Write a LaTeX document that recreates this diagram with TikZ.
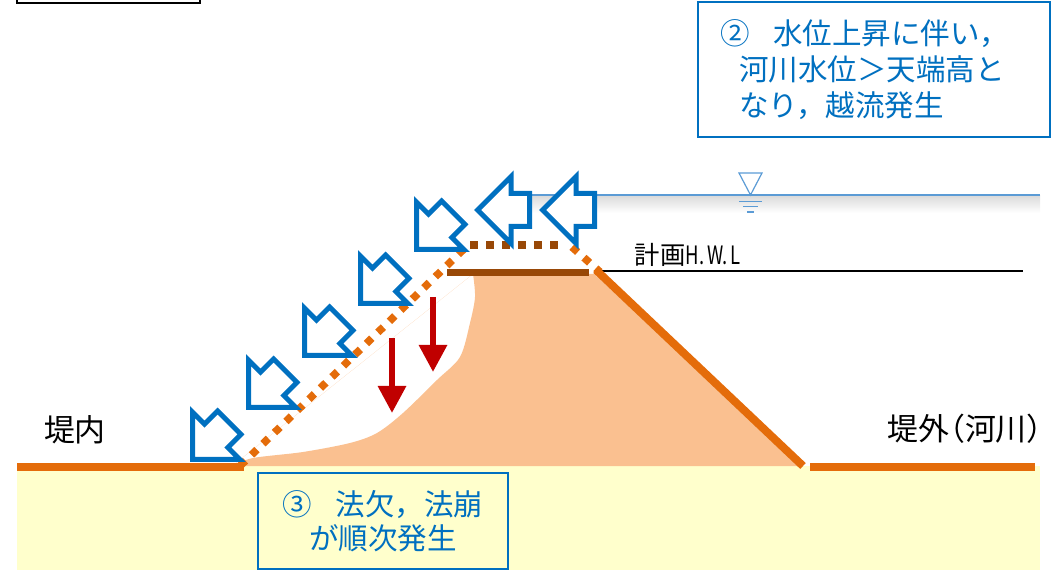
\documentclass[tikz,border=0pt]{standalone}
\usepackage{fontspec}
\setmainfont{Noto Sans CJK JP}
\usepackage{graphicx}
\usetikzlibrary{positioning, arrows.meta, shapes.arrows}
\definecolor{bflow}{HTML}{0070C0}
\definecolor{rfall}{HTML}{C00000}
\definecolor{levee}{HTML}{E46C0A}
\definecolor{crest}{HTML}{984807}
\definecolor{soil}{HTML}{FAC090}
\definecolor{ground}{HTML}{FFFFCC}
\definecolor{water}{HTML}{5B9BD5}

\begin{document}
\begin{tikzpicture}[x=0.25mm,y=-0.25mm,>={Triangle[length=6.75mm,width=6.75mm]},
  flow/.style={single arrow,draw=bflow,fill=white,line width=1.25mm,inner sep=0pt,inner ysep=3.5mm,
    single arrow head extend=4.25mm,single arrow tip angle=90,minimum height=13mm,anchor=tip},
  fall/.style={->,rfall,line width=1.5mm},
  edge/.style={levee,line width=2mm},
  dots/.style={line width=1.9mm,dash pattern=on 1.9mm off 2.1mm},
  note/.style={draw=bflow,line width=0.5mm,text=bflow,font=\fontsize{21pt}{25.6pt}\selectfont},
  lbl/.style={font=\fontsize{22pt}{26pt}\selectfont,inner sep=0pt}]
  \useasboundingbox (0,0) rectangle (1060,575);
  % title frame, cut at the top
  \draw[line width=0.6mm] (17,-20) rectangle (200,3);
  % ground and levee body
  \fill[ground] (17,466) rectangle (1040,570);
  \fill[soil] (473,274) -- (594,274) -- (803,466) -- (232,466)
    plot[smooth] coordinates {(232,466) (253,458) (303,452) (350,443) (377,433) (403,413) (437,380) (460,357) (470,323) (475,297) (473,274)} -- cycle;
  % river water level
  \shade[top color=black!14,bottom color=white] (528,196) rectangle (1040,213);
  \coordinate (wl1) at (528,195); \coordinate (wl2) at (1040,195);
  \draw[water,line width=0.4mm] (wl1) -- (wl2);
  \draw[water,line width=0.3mm] (739,173) -- (762,173) -- (750.5,195) -- cycle;
  \draw[water,line width=0.4mm] (739,201.5) -- (762,201.5) (743,206.5) -- (758,206.5) (747,212) -- (754,212);
  % design high water level
  \coordinate (hwl1) at (602,271); \coordinate (hwl2) at (1023,271);
  \draw[line width=0.5mm] (hwl1) -- (hwl2);
  \node[font=\fontsize{18pt}{20pt}\selectfont,inner sep=0pt] (hwl) at (688,255) {計画\scalebox{0.73}[1]{H.\,W.\,L}};
  % levee outline
  \coordinate (gl1) at (17,467); \coordinate (gl2) at (244,467);
  \coordinate (gr1) at (810,467); \coordinate (gr2) at (1035,467);
  \coordinate (st) at (596,270); \coordinate (sb) at (803,466);
  \coordinate (cr1) at (447,273); \coordinate (cr2) at (589,273);
  \draw[edge] (gl1) -- (gl2); \draw[edge] (gr1) -- (gr2); \draw[edge] (st) -- (sb);
  \draw[crest,line width=1.75mm] (cr1) -- (cr2);
  % overtopped crest
  \coordinate (toe) at (240,466); \coordinate (ot1) at (466,247);
  \coordinate (ot2) at (470,245); \coordinate (ot3) at (566,245);
  \coordinate (ot4) at (572,247); \coordinate (ot5) at (600,272);
  \draw[dots,levee] (toe) -- (ot1); \draw[dots,crest] (ot2) -- (ot3); \draw[dots,levee] (ot4) -- (ot5);
  % slope failure
  \coordinate (fa1) at (433,297); \coordinate (fa2) at (433,372);
  \coordinate (fb1) at (392,338); \coordinate (fb2) at (392,413);
  \draw[fall] (fa1) -- (fa2); \draw[fall] (fb1) -- (fb2);
  % overflow
  \node[flow,rotate=180] (ov1) at (474,210) {}; \node[flow,rotate=180] (ov2) at (539,210) {};
  \node[flow,rotate=225] (ov3) at (414,252) {}; \node[flow,rotate=225] (ov4) at (358,306) {};
  \node[flow,rotate=225] (ov5) at (302,358) {}; \node[flow,rotate=225] (ov6) at (246,410) {};
  \node[flow,rotate=225] (ov7) at (190,462) {};
  % labels
  \node[lbl] (inside) at (75,430) {堤内};
  \node[lbl] (outside) at (965,429) {堤外\addfontfeature{RawFeature=+halt}（河川）};
  \node[note,fill=white,minimum width=88mm,minimum height=33.75mm,text width=77mm,align=left] (rise) at (874,69.5)
    {②\hspace{0.8em}水位上昇に伴い，\\\hspace*{0.65em}河川水位＞天端高と\\\hspace*{0.65em}なり，越流発生};
  \node[note,minimum width=62.5mm,minimum height=24mm,align=center,font=\fontsize{21pt}{24.5pt}\selectfont] (fail) at (383,521)
    {③\hspace{0.8em}法欠，法崩\\が順次発生};
\end{tikzpicture}
\end{document}
